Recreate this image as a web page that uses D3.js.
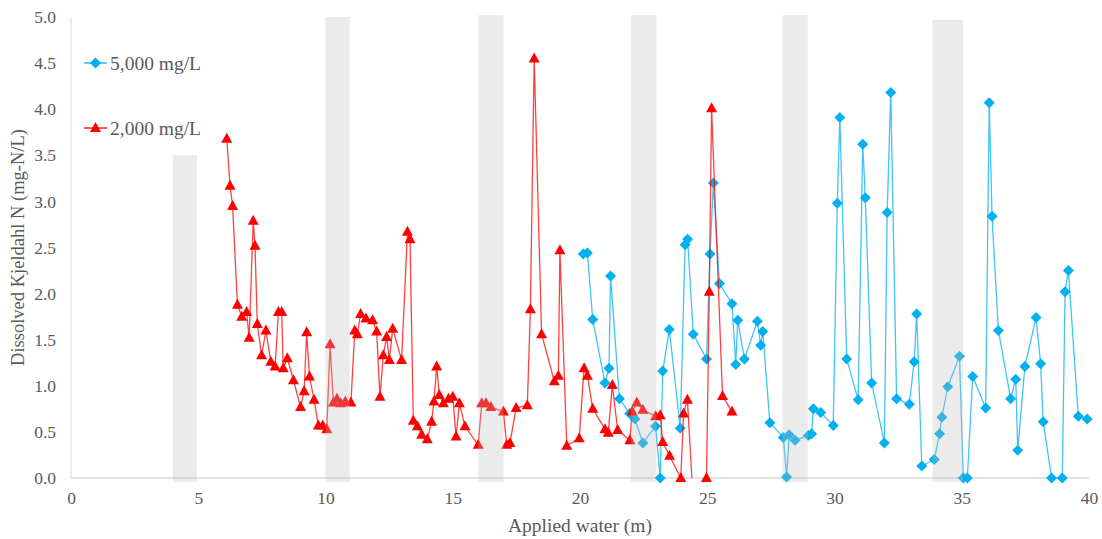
<!DOCTYPE html>
<html>
<head>
<meta charset="utf-8">
<script src="https://cdn.jsdelivr.net/npm/d3@7"></script>
<style>
  html, body { margin: 0; padding: 0; background: #fff; }
  svg { display: block; }
  text { font-family: "Liberation Serif", "Times New Roman", serif; fill: #595959; }
</style>
</head>
<body>
<svg id="chart" width="1102" height="539"></svg>
<script>
// Applied water (m) and dissolved Kjeldahl N (mg-N/L), 5,000 mg/L run
const x5000 = [20.13, 20.29, 20.5, 20.98, 21.14, 21.2, 21.55, 21.95, 22.16, 22.47, 22.97, 23.15, 23.25, 23.51, 23.94,
  24.13, 24.23, 24.45, 24.97, 25.11, 25.24, 25.48, 25.97, 26.12, 26.2, 26.46, 26.97, 27.1, 27.18, 27.46, 27.99, 28.12,
  28.22, 28.45, 28.97, 29.1, 29.17, 29.46, 29.95, 30.11, 30.21, 30.48, 30.93, 31.11, 31.21, 31.46, 31.96, 32.07, 32.21,
  32.44, 32.94, 33.13, 33.23, 33.43, 33.92, 34.13, 34.22, 34.45, 34.91, 35.06, 35.22, 35.43, 35.94, 36.08, 36.19, 36.44,
  36.92, 37.12, 37.2, 37.48, 37.92, 38.1, 38.2, 38.53, 38.95, 39.06, 39.19, 39.58, 39.93];
const y5000 = [2.43, 2.44, 1.72, 1.03, 1.19, 2.19, 0.86, 0.70, 0.64, 0.38, 0.56, 0.0, 1.16, 1.61, 0.54,
  2.53, 2.59, 1.56, 1.29, 2.43, 3.20, 2.11, 1.89, 1.23, 1.71, 1.29, 1.70, 1.44, 1.59, 0.60, 0.44, 0.01,
  0.47, 0.41, 0.46, 0.48, 0.75, 0.71, 0.57, 2.98, 3.91, 1.29, 0.85, 3.62, 3.04, 1.03, 0.38, 2.88, 4.18,
  0.86, 0.80, 1.26, 1.78, 0.13, 0.20, 0.48, 0.66, 0.99, 1.32, 0.0, 0.0, 1.10, 0.76, 4.07, 2.84, 1.60,
  0.86, 1.07, 0.30, 1.21, 1.74, 1.24, 0.61, 0.0, 0.0, 2.02, 2.25, 0.67, 0.64];

// 2,000 mg/L run
const x2000 = [6.12, 6.25, 6.35, 6.54, 6.71, 6.9, 7.0, 7.16, 7.23, 7.32, 7.49, 7.66, 7.85, 8.02, 8.15, 8.28, 8.34, 8.5,
  8.74, 9.02, 9.16, 9.26, 9.37, 9.55, 9.72, 9.89, 10.05, 10.18, 10.31, 10.45, 10.6, 10.78, 11.0, 11.15, 11.25, 11.38,
  11.59, 11.85, 12.01, 12.14, 12.27, 12.4, 12.51, 12.64, 12.99, 13.22, 13.32, 13.45, 13.61, 13.78, 14.0, 14.17, 14.26,
  14.37, 14.47, 14.63, 14.83, 15.0, 15.13, 15.26, 15.48, 16.0, 16.14, 16.31, 16.5, 16.99, 17.12, 17.25, 17.49, 17.93,
  18.05, 18.2, 18.49, 18.99, 19.15, 19.21, 19.48, 19.97, 20.16, 20.29, 20.5, 20.98, 21.11, 21.27, 21.48, 21.96, 22.05,
  22.23, 22.47, 22.97, 23.15, 23.25, 23.52, 23.96, 24.07, 24.22, 24.5, 24.97, 25.08, 25.17, 25.6, 25.97];
const y2000 = [3.68, 3.17, 2.95, 1.88, 1.75, 1.80, 1.52, 2.79, 2.52, 1.67, 1.33, 1.60, 1.26, 1.21, 1.80, 1.80, 1.19, 1.30,
  1.06, 0.77, 0.94, 1.58, 1.10, 0.85, 0.57, 0.57, 0.53, 1.45, 0.82, 0.86, 0.81, 0.83, 0.82, 1.60, 1.56, 1.78,
  1.73, 1.71, 1.59, 0.88, 1.33, 1.53, 1.28, 1.62, 1.28, 2.67, 2.59, 0.62, 0.56, 0.47, 0.42, 0.61, 0.83,
  1.21, 0.90, 0.81, 0.86, 0.88, 0.45, 0.81, 0.56, 0.36, 0.81, 0.81, 0.77, 0.72, 0.36, 0.38, 0.76, 0.79,
  1.83, 4.55, 1.56, 1.05, 1.11, 2.47, 0.35, 0.43, 1.19, 1.11, 0.75, 0.53, 0.49, 1.01, 0.52, 0.41, 0.72,
  0.82, 0.74, 0.67, 0.68, 0.39, 0.24, 0.0, 0.70, 0.85, -0.5, 0.0, 2.02, 4.01, 0.89, 0.72];

// Shaded intervals: start, end and top (mg-N/L)
const bandStart = [4.0, 10.0, 16.0, 22.0, 27.95, 33.85];
const bandEnd   = [4.95, 10.95, 17.0, 23.0, 28.95, 35.05];
const bandTop   = [3.5, 5.0, 5.02, 5.02, 5.02, 4.97];

const xTicks = [0, 5, 10, 15, 20, 25, 30, 35, 40];
const yTicks = [0, 0.5, 1, 1.5, 2, 2.5, 3, 3.5, 4, 4.5, 5];

const seriesNames = ["5,000 mg/L", "2,000 mg/L"];
const seriesColors = ["#00b0f0", "#ff0000"];

const svg = d3.select("#chart");
const plotLeft = 71, plotRight = 1089, plotTop = 17, plotBottom = 478;

const x = d3.scaleLinear().domain([0, 40]).range([plotLeft, plotRight]);
const y = d3.scaleLinear().domain([0, 5]).range([plotBottom, plotTop]);

const defs = svg.append("defs");
defs.append("clipPath").attr("id", "clipLine")
  .append("rect").attr("x", plotLeft - 10).attr("y", 0)
  .attr("width", plotRight - plotLeft + 20).attr("height", plotBottom);
defs.append("clipPath").attr("id", "clipMark")
  .append("rect").attr("x", plotLeft - 10).attr("y", 0)
  .attr("width", plotRight - plotLeft + 20).attr("height", plotBottom + 10);

// Axis lines
svg.append("line").attr("x1", plotLeft).attr("x2", plotLeft).attr("y1", plotTop).attr("y2", plotBottom)
  .attr("stroke", "#d9d9d9").attr("stroke-width", 1);
svg.append("line").attr("x1", plotLeft).attr("x2", plotRight).attr("y1", plotBottom).attr("y2", plotBottom)
  .attr("stroke", "#d9d9d9").attr("stroke-width", 1.5);

// Tick labels through d3 axes, without domain and tick lines
const yAxis = d3.axisLeft(y).tickValues(yTicks).tickFormat(d3.format(".1f")).tickSize(0).tickPadding(15);
const gy = svg.append("g").attr("transform", `translate(${plotLeft},0)`).call(yAxis);
const xAxis = d3.axisBottom(x).tickValues(xTicks).tickFormat(d3.format("d")).tickSize(0).tickPadding(14);
const gx = svg.append("g").attr("transform", `translate(0,${plotBottom})`).call(xAxis);
[gy, gx].forEach(g => {
  g.select(".domain").remove();
  g.selectAll("text").attr("font-family", "Liberation Serif, Times New Roman, serif")
    .attr("font-size", 17.5).attr("fill", "#595959");
});

// Axis titles
svg.append("text").attr("x", 580).attr("y", 532).attr("text-anchor", "middle")
  .attr("font-size", 19.5).text("Applied water (m)");
svg.append("text").attr("transform", `translate(24,${(plotTop + plotBottom) / 2}) rotate(-90)`)
  .attr("text-anchor", "middle").attr("font-size", 18.5).text("Dissolved Kjeldahl N (mg-N/L)");

const diamond = r => `M0,${-r}L${r},0L0,${r}L${-r},0Z`;
const triangle = (w, h) => `M0,${-h * 0.6}L${w / 2},${h * 0.4}L${-w / 2},${h * 0.4}Z`;
const markerPath = [diamond(5.5), triangle(11, 10)];

const series = [
  x5000.map((v, i) => ({ x: v, y: y5000[i] })),
  x2000.map((v, i) => ({ x: v, y: y2000[i] }))
];

const line = d3.line().x(d => x(d.x)).y(d => y(d.y));

series.forEach((data, s) => {
  const g = svg.append("g");
  g.append("path").datum(data).attr("d", line).attr("fill", "none")
    .attr("stroke", seriesColors[s]).attr("stroke-width", 1.3).attr("stroke-opacity", 0.75)
    .attr("clip-path", "url(#clipLine)");
  g.append("g").attr("clip-path", "url(#clipMark)")
    .selectAll("path").data(data).join("path")
    .attr("d", markerPath[s])
    .attr("transform", d => `translate(${x(d.x)},${y(d.y)})`)
    .attr("fill", seriesColors[s]);
});

// Translucent shaded intervals over the series
svg.append("g").selectAll("rect").data(bandStart).join("rect")
  .attr("x", d => x(d))
  .attr("width", (d, i) => x(bandEnd[i]) - x(d))
  .attr("y", (d, i) => y(bandTop[i]))
  .attr("height", (d, i) => y(-0.045) - y(bandTop[i]))
  .attr("fill", "rgb(188,188,188)").attr("fill-opacity", 0.3);

// Legend
const legend = svg.append("g");
[63, 128].forEach((ly, s) => {
  legend.append("line").attr("x1", 84).attr("x2", 107).attr("y1", ly).attr("y2", ly)
    .attr("stroke", seriesColors[s]).attr("stroke-width", 1.3);
  legend.append("path").attr("d", markerPath[s]).attr("transform", `translate(95.5,${ly})`)
    .attr("fill", seriesColors[s]);
  legend.append("text").attr("x", 110).attr("y", ly + 6.5).attr("font-size", 19.5).text(seriesNames[s]);
});
</script>
</body>
</html>
